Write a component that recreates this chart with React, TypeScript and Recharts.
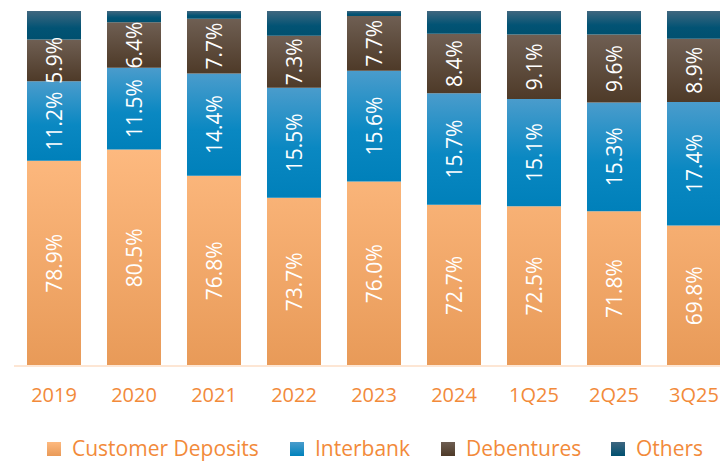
import React from "react";
import { BarChart, Bar, XAxis, YAxis, LabelList } from "recharts";

const categories = ["2019", "2020", "2021", "2022", "2023", "2024", "1Q25", "2Q25", "3Q25"];
const customerDeposits = [78.9, 80.5, 76.8, 73.7, 76.0, 72.7, 72.5, 71.8, 69.8];
const interbank = [11.2, 11.5, 14.4, 15.5, 15.6, 15.7, 15.1, 15.3, 17.4];
const debentures = [5.9, 6.4, 7.7, 7.3, 7.7, 8.4, 9.1, 9.6, 8.9];
const others = [4.0, 1.6, 1.1, 3.5, 0.7, 3.2, 3.3, 3.3, 3.9];

const data = categories.map((c, i) => ({
  name: c,
  deposits: customerDeposits[i],
  interbank: interbank[i],
  debentures: debentures[i],
  others: others[i],
}));

const PLOT_TOP = 11;
const PLOT_BOTTOM = 366;
const ORANGE = "#f28a3a";
const FONT = "'Open Sans', sans-serif";

const renderLabel = (props: any) => {
  const vb = props.viewBox || props;
  let { x, y, width, height } = vb;
  if (height < 0) {
    y = y + height;
    height = -height;
  }
  const top = Math.max(y, PLOT_TOP);
  const bottom = Math.min(y + height, PLOT_BOTTOM);
  const cx = x + width / 2;
  const cy = (top + bottom) / 2;
  return (
    <text
      x={cx}
      y={cy}
      transform={`rotate(-90 ${cx} ${cy})`}
      textAnchor="middle"
      dominantBaseline="central"
      fill="#ffffff"
      fontSize={21}
      fontFamily={FONT}
    >
      {Number(props.value).toFixed(1)}%
    </text>
  );
};

const legendItems = [
  { label: "Customer Deposits", grad: "linear-gradient(#fdb97f, #e99a58)", left: 47 },
  { label: "Interbank", grad: "linear-gradient(#4a9ccc, #0082bc)", left: 290 },
  { label: "Debentures", grad: "linear-gradient(#6e5e52, #4e3a28)", left: 441 },
  { label: "Others", grad: "linear-gradient(#3e6680, #00506f)", left: 611 },
];

export default function App() {
  return (
    <div
      style={{
        position: "fixed",
        left: 0,
        top: 0,
        width: 720,
        height: 461,
        overflow: "hidden",
        background: "#fff",
      }}
    >
      <BarChart
        width={760}
        height={420}
        data={data}
        margin={{ top: PLOT_TOP, right: 26, left: 14, bottom: 0 }}
        barSize={54}
      >
        <defs>
          <linearGradient id="gDep" x1="0" y1="150" x2="0" y2="366" gradientUnits="userSpaceOnUse">
            <stop offset="0" stopColor="#fdb97f" />
            <stop offset="1" stopColor="#e89a58" />
          </linearGradient>
          <linearGradient id="gInt" x1="0" y1="0" x2="0" y2="1">
            <stop offset="0" stopColor="#4a9ccc" />
            <stop offset="0.55" stopColor="#0a88c2" />
            <stop offset="1" stopColor="#0080ba" />
          </linearGradient>
          <linearGradient id="gDeb" x1="0" y1="0" x2="0" y2="1">
            <stop offset="0" stopColor="#6f5f53" />
            <stop offset="1" stopColor="#4e3a28" />
          </linearGradient>
          <linearGradient id="gOth" x1="0" y1="0" x2="0" y2="1">
            <stop offset="0" stopColor="#40677f" />
            <stop offset="0.6" stopColor="#025374" />
            <stop offset="1" stopColor="#00506f" />
          </linearGradient>
        </defs>
        <XAxis
          dataKey="name"
          height={54}
          tickLine={false}
          tickSize={0}
          tickMargin={22}
          axisLine={{ stroke: "#fde6d4", strokeWidth: 2 }}
          tick={{ fill: ORANGE, fontSize: 20, fontFamily: FONT }}
          interval={0}
        />
        <YAxis hide type="number" domain={[50, 100]} allowDataOverflow />
        <Bar dataKey="deposits" stackId="a" fill="url(#gDep)" isAnimationActive={false}>
          <LabelList dataKey="deposits" content={renderLabel} />
        </Bar>
        <Bar dataKey="interbank" stackId="a" fill="url(#gInt)" isAnimationActive={false}>
          <LabelList dataKey="interbank" content={renderLabel} />
        </Bar>
        <Bar dataKey="debentures" stackId="a" fill="url(#gDeb)" isAnimationActive={false}>
          <LabelList dataKey="debentures" content={renderLabel} />
        </Bar>
        <Bar dataKey="others" stackId="a" fill="url(#gOth)" isAnimationActive={false} />
      </BarChart>
      {legendItems.map((it) => (
        <div
          key={it.label}
          style={{
            position: "absolute",
            left: it.left,
            top: 438,
            height: 21,
            display: "flex",
            alignItems: "center",
            fontFamily: FONT,
            fontSize: 21,
            lineHeight: "21px",
            color: ORANGE,
            whiteSpace: "nowrap",
          }}
        >
          <div style={{ width: 14, height: 14, background: it.grad, marginRight: 11 }} />
          <span>{it.label}</span>
        </div>
      ))}
    </div>
  );
}
